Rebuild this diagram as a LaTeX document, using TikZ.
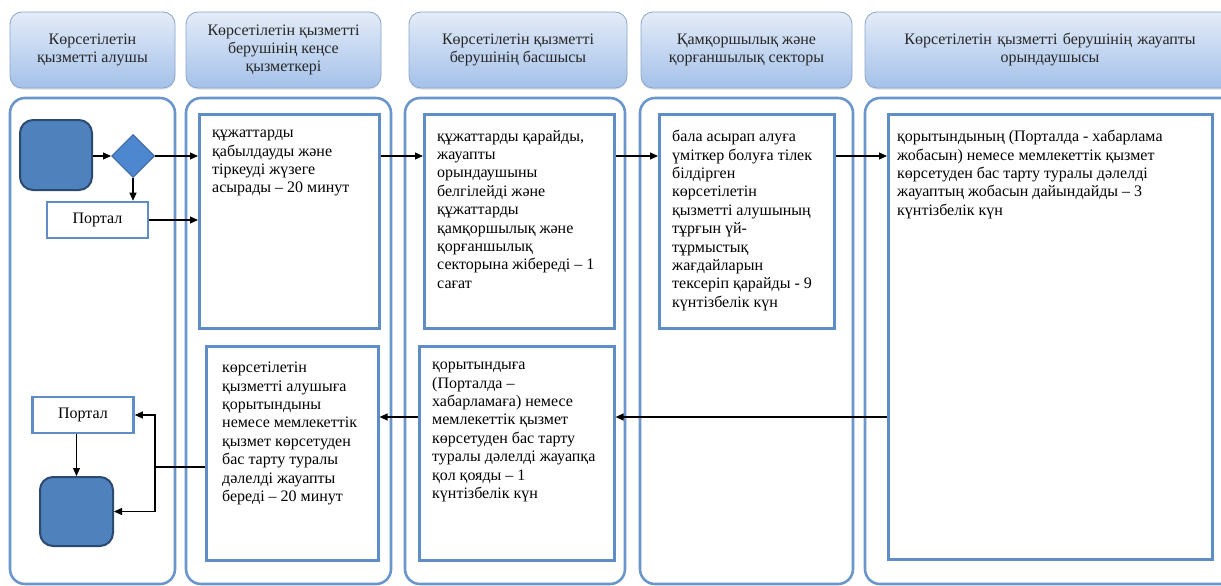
\documentclass[tikz,border=0pt]{standalone}
\usepackage{fontspec}
\setmainfont{Liberation Serif}
\usetikzlibrary{arrows.meta,shapes.geometric,shadows}
\definecolor{lanecol}{HTML}{6A96CB}
\definecolor{boxcol}{HTML}{5F8DC6}
\definecolor{headtop}{HTML}{E4ECF7}
\definecolor{headbot}{HTML}{A4C1EA}
\definecolor{headline}{HTML}{8AA6CC}
\definecolor{termfill}{HTML}{4F81BD}
\definecolor{termline}{HTML}{2A4A70}
\definecolor{gatefill}{HTML}{4D87CF}
\definecolor{gateline}{HTML}{3A66A0}

\begin{document}
\begin{tikzpicture}[x=1pt,y=-1pt,
    lane/.style={draw=lanecol,line width=2.6pt,rounded corners=15pt},
    head/.style={draw=headline,line width=0.8pt,rounded corners=12pt,top color=headtop,bottom color=headbot,
      drop shadow={shadow xshift=0pt,shadow yshift=-1.5pt,opacity=0.25},
      align=center,text=black!85,font=\fontsize{16}{18}\selectfont},
    stepbox/.style={draw=boxcol,line width=2.6pt,fill=white,inner sep=0pt,anchor=north west},
    txt/.style={anchor=north west,align=left,inner sep=0pt,font=\fontsize{16}{18.4}\selectfont},
    term/.style={draw=termline,line width=2pt,fill=termfill,rounded corners=13pt,inner sep=0pt},
    gate/.style={diamond,draw=gateline,line width=1pt,fill=gatefill,inner sep=0pt,minimum width=43pt,minimum height=43pt},
    portal/.style={draw=boxcol,line width=2.6pt,fill=white,minimum width=101pt,minimum height=36pt,font=\fontsize{16}{18}\selectfont},
    flow/.style={line width=1.2pt,-{Triangle[length=8pt,width=7pt]}}]
  \useasboundingbox (0,0) rectangle (1221,586);
  \clip (0,0) rectangle (1221,586);

  % lanes
  \draw[lane] (10,98) rectangle (175,584);
  \draw[lane] (186,98) rectangle (391,584);
  \draw[lane] (405,98) rectangle (625,584);
  \draw[lane] (640,98) rectangle (853,584);
  \draw[lane] (865,98) rectangle (1245,584);

  % headers
  \node[head,minimum width=165pt,minimum height=76pt] (h1) at (92.5,50) {Көрсетілетін\\қызметті алушы};
  \node[head,minimum width=195pt,minimum height=76pt] (h2) at (283.5,50) {Көрсетілетін қызметті\\берушінің кеңсе\\қызметкері};
  \node[head,minimum width=218pt,minimum height=76pt] (h3) at (518,50) {Көрсетілетін қызметті\\берушінің басшысы};
  \node[head,minimum width=211pt,minimum height=76pt] (h4) at (746.5,50) {Қамқоршылық және\\қорғаншылық секторы};
  \node[head,minimum width=370pt,minimum height=76pt,text width=346pt] (h5) at (1050,50) {Көрсетілетін қызметті берушінің жауапты\\орындаушысы};

  % client lane
  \node[term,minimum width=72pt,minimum height=70pt] (start) at (56,155) {};
  \node[gate] (dec) at (133,156) {};
  \node[portal] (p1) at (97.5,220) {Портал};
  \node[portal] (p2) at (83,415) {Портал};
  \node[term,minimum width=73pt,minimum height=69pt] (fin) at (76.5,511.5) {};

  % steps
  \node[stepbox,minimum width=180pt,minimum height=214pt] (b1) at (198,113) {};
  \node[txt] (t1) at ([xshift=14pt,yshift=-17pt]b1.north west) {құжаттарды\\қабылдауды және\\тіркеуді жүзеге\\асырады – 20 минут};
  \node[stepbox,minimum width=190pt,minimum height=214pt] (b2) at (423,113) {};
  \node[txt] (t2) at ([xshift=14pt,yshift=-17pt]b2.north west) {құжаттарды қарайды,\\жауапты\\орындаушыны\\белгілейді және\\құжаттарды\\қамқоршылық және\\қорғаншылық\\секторына жібереді – 1\\сағат};
  \node[stepbox,minimum width=175pt,minimum height=214pt] (b3) at (658,113) {};
  \node[txt] (t3) at ([xshift=14pt,yshift=-17pt]b3.north west) {бала асырап алуға\\үміткер болуға тілек\\білдірген\\көрсетілетін\\қызметті алушының\\тұрғын үй-\\тұрмыстық\\жағдайларын\\тексеріп қарайды - 9\\күнтізбелік күн};
  \node[stepbox,minimum width=324pt,minimum height=445pt] (b4) at (887,113) {};
  \node[txt] (t4) at ([xshift=10pt,yshift=-17pt]b4.north west) {қорытындының (Порталда - хабарлама\\жобасын) немесе мемлекеттік қызмет\\көрсетуден бас тарту туралы дәлелді\\жауаптың жобасын дайындайды – 3\\күнтізбелік күн};
  \node[stepbox,minimum width=195pt,minimum height=214pt] (b5) at (418,345) {};
  \node[txt] (t5) at ([xshift=14pt,yshift=-17pt]b5.north west) {қорытындыға\\(Порталда –\\хабарламаға) немесе\\мемлекеттік қызмет\\көрсетуден бас тарту\\туралы дәлелді жауапқа\\қол қояды – 1\\күнтізбелік күн};
  \node[stepbox,minimum width=172pt,minimum height=214pt] (b6) at (205,345) {};
  \node[txt] (t6) at ([xshift=17pt,yshift=-17pt]b6.north west) {көрсетілетін\\қызметті алушыға\\қорытындыны\\немесе мемлекеттік\\қызмет көрсетуден\\бас тарту туралы\\дәлелді жауапты\\береді – 20 минут};

  % connectors
  \coordinate (row1) at (0,156);
  \coordinate (row2) at (0,417);
  \coordinate (jn) at (155,467);
  \draw[flow] (start.east |- row1) -- (dec.west);
  \draw[flow] (dec.east) -- (b1.west |- row1);
  \draw[flow] (dec.south) -- (dec.south |- p1.north);
  \draw[flow] (p1.east) -- (b1.west |- p1.east);
  \draw[flow] (b1.east |- row1) -- (b2.west |- row1);
  \draw[flow] (b2.east |- row1) -- (b3.west |- row1);
  \draw[flow] (b3.east |- row1) -- (b4.west |- row1);
  \draw[flow] (b4.west |- row2) -- (b5.east |- row2);
  \draw[flow] (b5.west |- row2) -- (b6.east |- row2);
  \draw[line width=1.2pt] (b6.west |- jn) -- (jn);
  \draw[flow] (jn) |- (p2.east);
  \draw[flow] (jn) |- (fin.east);
  \draw[flow] (p2.south -| fin.north) -- (fin.north);
\end{tikzpicture}
\end{document}
